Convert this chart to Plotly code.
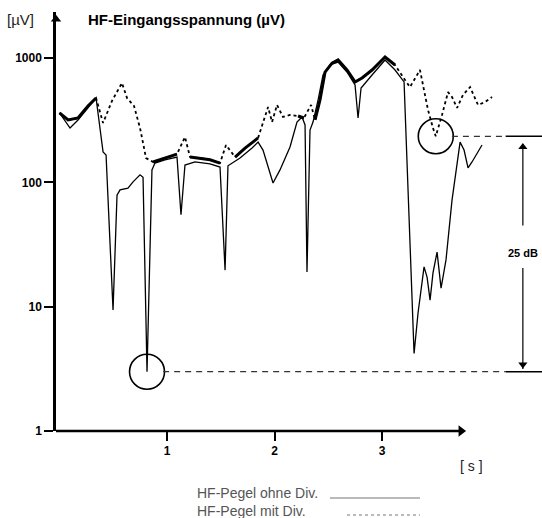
import numpy as np
import plotly.graph_objects as go

# ---- data (time in s, level in µV) ----
ohne_t = [0.00, 0.098, 0.172, 0.265, 0.34, 0.405, 0.433, 0.498, 0.535, 0.563, 0.637, 0.684, 0.749, 0.777,
          0.814, 0.86, 0.888, 0.981, 1.093, 1.13, 1.167, 1.26, 1.40, 1.493, 1.54, 1.567, 1.679, 1.791,
          1.847, 1.893, 1.94, 1.986, 2.051, 2.144, 2.209, 2.256, 2.284, 2.302, 2.33, 2.358, 2.405, 2.451,
          2.516, 2.591, 2.674, 2.749, 2.777, 2.805, 2.907, 3.028, 3.121, 3.205, 3.298, 3.335, 3.391,
          3.419, 3.447, 3.474, 3.512, 3.549, 3.595, 3.651, 3.726, 3.763, 3.80, 3.837, 3.93]
ohne_v = [362, 274, 318, 397, 478, 176, 166, 9.4, 79, 87, 90, 101, 115, 110,
          3.0, 126, 143, 152, 160, 55, 138, 146, 141, 133, 19.7, 136, 157, 189,
          211, 182, 131, 99, 126, 193, 306, 336, 290, 19, 264, 306, 460, 731,
          880, 930, 773, 608, 330, 575, 731, 966, 802, 643, 4.2, 8.9, 20.9,
          17.3, 11.3, 18.7, 27.5, 14.1, 23.8, 72, 211, 182, 131, 146, 200]

mit_t = [0.00, 0.08, 0.172, 0.265, 0.34, 0.405, 0.488, 0.581, 0.628, 0.693, 0.749, 0.805, 0.87, 0.981,
         1.093, 1.167, 1.214, 1.307, 1.40, 1.493, 1.549, 1.633, 1.726, 1.847, 1.893, 1.94, 1.977, 2.023,
         2.079, 2.144, 2.219, 2.274, 2.34, 2.377, 2.423, 2.47, 2.535, 2.591, 2.674, 2.749, 2.814, 2.907,
         3.028, 3.121, 3.214, 3.26, 3.353, 3.428, 3.474, 3.50, 3.558, 3.614, 3.651, 3.698, 3.753, 3.819,
         3.893, 3.958, 4.023]
mit_v = [362, 318, 330, 412, 478, 301, 452, 631, 478, 412, 274, 157, 146, 157,
         169, 232, 160, 157, 152, 143, 200, 160, 189, 228, 306, 404, 306, 420,
         336, 349, 342, 330, 420, 318, 460, 773, 912, 966, 802, 643, 692, 802,
         1020, 880, 667, 585, 802, 382, 274, 235, 349, 533, 486, 397, 505, 585,
         420, 443, 486]

# marked points: deepest fade without diversity, deepest fade with diversity
mark_t = [0.814, 3.50]
mark_v = [3.0, 235]
dim_t = 4.31          # position of the level-difference arrow
dim_label = "25 dB"
legend_labels = ["HF-Pegel ohne Div.", "HF-Pegel mit Div."]
x_ticks = [1, 2, 3]
y_ticks = [1, 10, 100, 1000]

# ---- figure ----
XL, XR = -0.0326, 4.488
YTOP = 3.371

fig = go.Figure()

# thick line where both curves coincide
ot = np.array(ohne_t); ov = np.log10(ohne_v)
mt = np.array(mit_t); mv = np.log10(mit_v)
close = np.abs(mv - np.interp(mt, ot, ov)) < 0.09
thick_y = [v if c else None for v, c in zip(mit_v, close)]

fig.add_trace(go.Scatter(x=ohne_t, y=ohne_v, mode="lines",
                         line=dict(color="black", width=1.3), hoverinfo="skip"))
fig.add_trace(go.Scatter(x=mit_t, y=thick_y, mode="lines", connectgaps=False,
                         line=dict(color="black", width=3), hoverinfo="skip"))
fig.add_trace(go.Scatter(x=mit_t, y=mit_v, mode="lines",
                         line=dict(color="black", width=1.8, dash="dot"), hoverinfo="skip"))

# circles
fig.add_trace(go.Scatter(x=mark_t, y=mark_v, mode="markers", cliponaxis=False,
                         marker=dict(symbol="circle-open", size=35, color="black",
                                     line=dict(width=1.6, color="black")), hoverinfo="skip"))

# reference level lines (dashed, then solid bar)
for t0, v in zip(mark_t, mark_v):
    fig.add_trace(go.Scatter(x=[t0 + 0.15, dim_t - 0.16], y=[v, v], mode="lines",
                             line=dict(color="#333", width=1.2, dash="6px,5px"), hoverinfo="skip"))
    fig.add_trace(go.Scatter(x=[dim_t - 0.16, XR], y=[v, v], mode="lines",
                             line=dict(color="black", width=1.4), hoverinfo="skip"))

# dimension arrow
lo, hi = min(mark_v), max(mark_v)
fig.add_trace(go.Scatter(x=[dim_t, dim_t, None, dim_t, dim_t],
                         y=[hi * 0.85, 45, None, 20.5, lo * 1.05], mode="lines",
                         line=dict(color="black", width=1.2), hoverinfo="skip"))
fig.add_trace(go.Scatter(x=[dim_t, dim_t], y=[hi * 0.82, lo * 1.14], mode="markers",
                         marker=dict(symbol=["triangle-up", "triangle-down"], size=8, color="black"),
                         hoverinfo="skip"))
fig.add_trace(go.Scatter(x=[dim_t], y=[np.sqrt(hi * lo)], mode="text", text=[f"<b>{dim_label}</b>"],
                         textfont=dict(family="Liberation Sans", size=11, color="black"),
                         cliponaxis=False, hoverinfo="skip"))

# axis arrowheads
fig.add_trace(go.Scatter(x=[XL], y=[2050], mode="markers", cliponaxis=False,
                         marker=dict(symbol="triangle-up", size=9, color="black"), hoverinfo="skip"))
fig.add_trace(go.Scatter(x=[3.735], y=[1], mode="markers", cliponaxis=False,
                         marker=dict(symbol="triangle-right", size=10, color="black"), hoverinfo="skip"))

fig.add_shape(type="line", xref="x", yref="y domain", x0=XL, x1=3.72, y0=0, y1=0,
              line=dict(color="black", width=2.5))

font = "Liberation Sans"
fig.update_layout(
    width=542, height=518, showlegend=False,
    margin=dict(l=56, r=0, t=12, b=87),
    paper_bgcolor="white", plot_bgcolor="white",
    font=dict(family=font, color="black"),
    xaxis=dict(range=[XL, XR], showgrid=False, zeroline=False, showline=False,
               tickvals=x_ticks, ticktext=[f"<b>{v}</b>" for v in x_ticks],
               ticks="outside", ticklen=9, tickwidth=1.5, tickcolor="black",
               tickfont=dict(family=font, size=12, color="black")),
    yaxis=dict(type="log", range=[0, YTOP], showgrid=False, zeroline=False,
               showline=True, linewidth=2.5, linecolor="black",
               tickvals=y_ticks, ticktext=[f"<b>{v}</b>" for v in y_ticks],
               ticks="outside", ticklen=9, tickwidth=1.5, tickcolor="black",
               tickfont=dict(family=font, size=12, color="black")),
)

def px(x):
    return (x - 56) / 486

def py(y):
    return (431 - y) / 419

ann = [
    dict(text="[µV]", x=px(20), y=py(20), xanchor="center", yanchor="middle",
         font=dict(size=15, color="#222")),
    dict(text="<b>HF-Eingangsspannung (µV)</b>", x=px(86), y=py(20), xanchor="left", yanchor="middle",
         font=dict(size=15, color="black")),
    dict(text="[ s ]", x=px(471), y=py(466), xanchor="center", yanchor="middle",
         font=dict(size=14, color="#222")),
    dict(text="<br>".join(legend_labels), x=px(195), y=py(502), xanchor="left", yanchor="middle",
         align="left", font=dict(size=14, color="#555")),
]
for a in ann:
    fig.add_annotation(xref="paper", yref="paper", showarrow=False, **a)

fig.add_shape(type="line", xref="paper", yref="paper", x0=px(330), x1=px(420), y0=py(498), y1=py(498),
              line=dict(color="#777", width=1.2))
fig.add_shape(type="line", xref="paper", yref="paper", x0=px(347), x1=px(420), y0=py(515), y1=py(515),
              line=dict(color="#777", width=1.2, dash="dot"))

fig.write_html("out.html", config={"displayModeBar": False},
               post_script="document.body.style.margin='0px';")
